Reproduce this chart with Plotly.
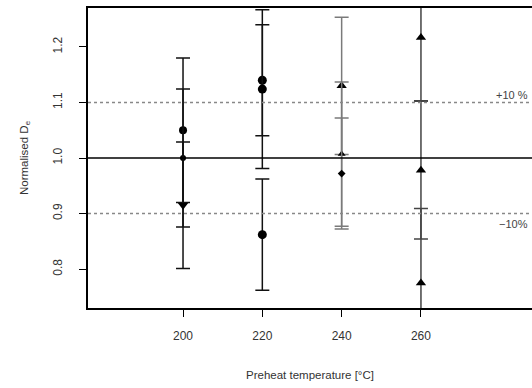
import plotly.graph_objects as go

# Data
temps = [200, 200, 200, 220, 220, 220, 240, 240, 240, 260, 260, 260]
values = [1.05, 1.00, 0.915, 1.14, 1.124, 0.862, 1.13, 1.007, 0.972, 1.217, 0.978, 0.775]
errors = [0.13, 0.124, 0.114, 0.10, 0.143, 0.10, 0.1235, 0.13, 0.10, 0.114, 0.124, 0.134]
symbols = ["circle", "circle", "triangle-down", "circle", "circle", "circle",
           "triangle-up", "triangle-up", "diamond", "triangle-up", "triangle-up", "triangle-up"]
sizes = [8, 6, 9, 9, 9, 9, 9, 7, 6, 9, 9, 9]
bar_colors = ["#111111"] * 6 + ["#7a7a7a"] * 3 + ["#444444"] * 3

x_ticks = [200, 220, 240, 260]
y_ticks = [0.8, 0.9, 1.0, 1.1, 1.2]
y_tick_text = ["0.8", "0.9", "1.0", "1.1", "1.2"]
ref_lines = {"solid": 1.0, "upper": 1.1, "lower": 0.9}

fig = go.Figure()

for t, v, e, s, sz, c in zip(temps, values, errors, symbols, sizes, bar_colors):
    fig.add_trace(go.Scatter(
        x=[t], y=[v], mode="markers",
        marker=dict(symbol=s, size=sz, color="black"),
        error_y=dict(type="data", array=[e], symmetric=True, color=c,
                     thickness=1.5, width=7),
        showlegend=False, cliponaxis=True, hoverinfo="skip",
    ))

fig.add_hline(y=ref_lines["solid"], line=dict(color="black", width=1.6))
fig.add_hline(y=ref_lines["upper"], line=dict(color="#888888", width=1.5, dash="dot"))
fig.add_hline(y=ref_lines["lower"], line=dict(color="#888888", width=1.5, dash="dot"))

fig.add_annotation(x=1, xref="paper", y=ref_lines["upper"], yref="y", text="+10 %",
                   showarrow=False, xanchor="right", yanchor="bottom",
                   font=dict(size=11, color="#444"), xshift=-2, yshift=-1)
fig.add_annotation(x=1, xref="paper", y=ref_lines["lower"], yref="y", text="\u221210%",
                   showarrow=False, xanchor="right", yanchor="top",
                   font=dict(size=11, color="#444"), xshift=-2, yshift=-2)

fig.add_annotation(x=0, xref="paper", xshift=-63, xanchor="center",
                   y=0.5, yref="paper", yanchor="middle",
                   text="Normalised D<sub>e</sub>", textangle=-90, showarrow=False,
                   font=dict(size=11.5, color="#333"))
fig.add_annotation(x=0.5, xref="paper", xanchor="center",
                   y=0, yref="paper", yanchor="middle", yshift=-67,
                   text="Preheat temperature [\u00b0C]", showarrow=False,
                   font=dict(size=11.5, color="#333"))

fig.update_layout(
    width=532, height=388,
    margin=dict(l=88, r=0, t=8, b=80),
    plot_bgcolor="white", paper_bgcolor="white",
    font=dict(family="Liberation Sans, Arial, sans-serif", size=12, color="#333"),
)
fig.update_xaxes(range=[176.04, 288.0], tickvals=x_ticks, ticks="outside", ticklen=7,
                 tickcolor="black", tickwidth=1.3, showgrid=False, zeroline=False,
                 showline=True, linecolor="black", linewidth=1.6, mirror=True,
                 ticklabelstandoff=9, tickfont=dict(size=12))
fig.update_yaxes(range=[0.73, 1.27], tickvals=y_ticks, ticktext=y_tick_text,
                 ticks="outside", ticklen=7, tickcolor="black", tickwidth=1.3,
                 showgrid=False, zeroline=False, showline=True, linecolor="black",
                 linewidth=1.6, mirror=False, tickangle=-90, ticklabelstandoff=12,
                 tickfont=dict(size=12))

fig.write_html("out.html", config={"displayModeBar": False},
               post_script="document.body.style.margin='0';document.body.style.overflow='hidden';")
